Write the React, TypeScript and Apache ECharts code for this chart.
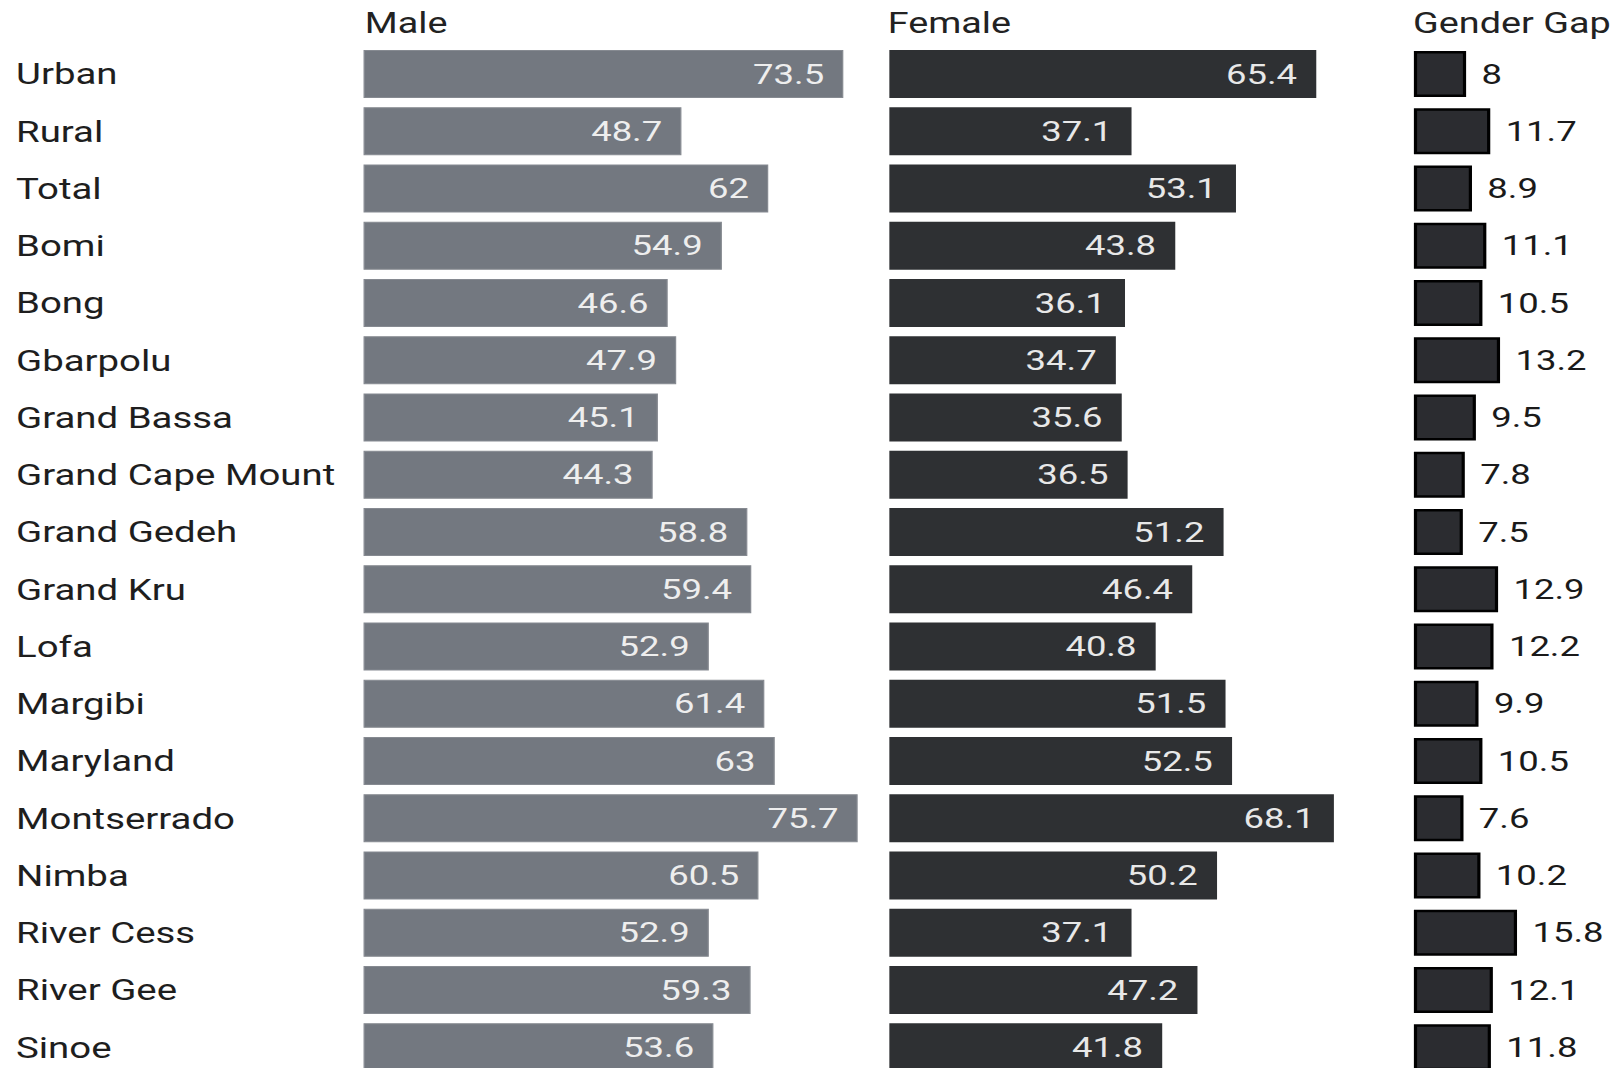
import React, { useEffect, useRef } from "react";
import * as echarts from "echarts";

const categories = [
  "Urban", "Rural", "Total", "Bomi", "Bong", "Gbarpolu", "Grand Bassa",
  "Grand Cape Mount", "Grand Gedeh", "Grand Kru", "Lofa", "Margibi",
  "Maryland", "Montserrado", "Nimba", "River Cess", "River Gee", "Sinoe",
];
const male = [73.5, 48.7, 62, 54.9, 46.6, 47.9, 45.1, 44.3, 58.8, 59.4, 52.9, 61.4, 63, 75.7, 60.5, 52.9, 59.3, 53.6];
const female = [65.4, 37.1, 53.1, 43.8, 36.1, 34.7, 35.6, 36.5, 51.2, 46.4, 40.8, 51.5, 52.5, 68.1, 50.2, 37.1, 47.2, 41.8];
const gap = [8, 11.7, 8.9, 11.1, 10.5, 13.2, 9.5, 7.8, 7.5, 12.9, 12.2, 9.9, 10.5, 7.6, 10.2, 15.8, 12.1, 11.8];
const headers = ["Male", "Female", "Gender Gap"];

const STRETCH = 1.28;
const FULL_W = 1616;
const FULL_H = 1068;
const CHART_W = FULL_W / STRETCH;
const CHART_H = 1100;
const FONT = "Roboto, 'Noto Sans', sans-serif";

export default function App() {
  const ref = useRef<HTMLDivElement>(null);

  useEffect(() => {
    if (!ref.current) return;
    const chart = echarts.init(ref.current, null, { renderer: "svg" });
    const gridTop = 45.4;
    const gridH = 1030.5;
    const lefts = [284, 694.8, 1104.6];
    const widths = [510, 510, 153];
    const maxes = [100, 100, 30];
    const titleLefts = [285, 693.5, 1104];

    chart.setOption({
      animation: false,
      textStyle: { fontFamily: FONT },
      title: headers.map((t, i) => ({
        text: t,
        left: titleLefts[i],
        top: 8,
        padding: 0,
        textStyle: { fontSize: 29.5, fontWeight: "normal", color: "#222", fontFamily: FONT },
      })),
      grid: lefts.map((l, i) => ({ left: l, width: widths[i], top: gridTop, height: gridH, containLabel: false })),
      xAxis: maxes.map((m, i) => ({ gridIndex: i, type: "value", min: 0, max: m, show: false })),
      yAxis: [0, 1, 2].map((i) => ({
        gridIndex: i,
        type: "category",
        data: categories,
        inverse: true,
        show: i === 0,
        axisLine: { show: false },
        axisTick: { show: false },
        splitLine: { show: false },
        axisLabel: {
          show: i === 0,
          align: "left",
          margin: 271.5,
          fontSize: 30,
          color: "#1e1e1e",
          fontFamily: FONT,
        },
      })),
      series: [
        {
          type: "bar",
          xAxisIndex: 0,
          yAxisIndex: 0,
          data: male,
          barWidth: 48,
          itemStyle: { color: "#737880", borderColor: "#868a91", borderWidth: 1 },
          label: { show: true, position: "insideRight", distance: 15, color: "#eeeeee", fontSize: 28.5, fontFamily: FONT },
        },
        {
          type: "bar",
          xAxisIndex: 1,
          yAxisIndex: 1,
          data: female,
          barWidth: 48,
          itemStyle: { color: "#2e3033" },
          label: { show: true, position: "insideRight", distance: 15, color: "#e8e8e8", fontSize: 28.5, fontFamily: FONT },
        },
        {
          type: "bar",
          xAxisIndex: 2,
          yAxisIndex: 2,
          data: gap,
          barWidth: 46,
          itemStyle: { color: "#2b2c30", borderColor: "#000000", borderWidth: 2.5 },
          label: { show: true, position: "right", distance: 12, color: "#1a1a1a", fontSize: 28.5, fontFamily: FONT },
        },
      ],
    });
    return () => chart.dispose();
  }, []);

  return (
    <div
      style={{
        position: "fixed",
        left: 0,
        top: 0,
        width: FULL_W,
        height: FULL_H,
        overflow: "hidden",
        background: "#ffffff",
      }}
    >
      <div
        ref={ref}
        style={{
          width: CHART_W,
          height: CHART_H,
          transform: `scaleX(${STRETCH})`,
          transformOrigin: "0 0",
        }}
      />
    </div>
  );
}
